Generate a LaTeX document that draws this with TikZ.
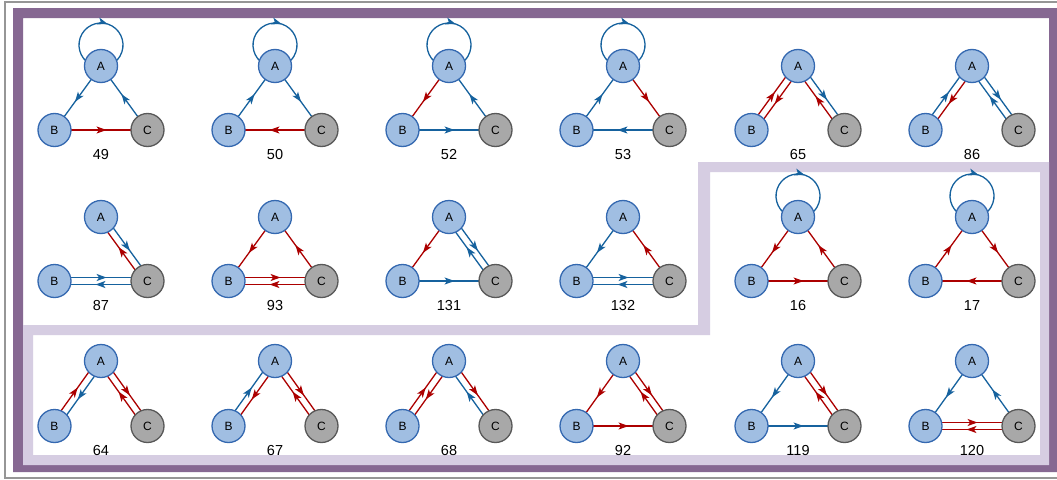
\documentclass[tikz,border=0pt]{standalone}
\usepackage{fontspec}
\setmainfont{Liberation Sans}
\usetikzlibrary{calc,arrows.meta,decorations.markings}

\definecolor{eb}{RGB}{22,98,158}
\definecolor{er}{RGB}{172,0,0}
\definecolor{vfill}{RGB}{160,190,226}
\definecolor{vline}{RGB}{52,104,176}
\definecolor{cfill}{RGB}{168,168,168}
\definecolor{cline}{RGB}{88,88,88}
\definecolor{frameP}{RGB}{134,104,146}
\definecolor{frameL}{RGB}{214,205,226}
\definecolor{outerline}{RGB}{150,150,150}

\pgfdeclarelayer{frame}
\pgfdeclarelayer{links}
\pgfsetlayers{frame,links,main}

\tikzset{
  vtx/.style={circle, minimum size=33pt, inner sep=0pt, line width=1.3pt,
    font=\fontsize{12}{14}\selectfont},
  va/.style={vtx, fill=vfill, draw=vline},
  vc/.style={vtx, fill=cfill, draw=cline},
  num/.style={anchor=base, inner sep=0pt, font=\fontsize{14.5}{16}\selectfont},
  cnx/.style={line width=1.3pt, draw=#1,
    postaction={decorate, decoration={markings,
      mark=at position 0.56 with {\arrow[#1]{Stealth[length=10pt,width=7pt,inset=2.5pt]}}}}}
}

% three vertices and the caption of one graph
\newcommand\tri[5]{%
  \node[va] (A#1) at (#2,#3) {A};
  \node[va] (B#1) at ({#2-46.5},#4) {B};
  \node[vc] (C#1) at ({#2+46.5},#4) {C};
  \node[num] (L#1) at (#2,#5) {#1};
}
% single directed link: colour, graph, from, to
\newcommand\one[4]{\begin{pgfonlayer}{links}
  \draw[cnx=#1] (#3#2.center) -- (#4#2.center);\end{pgfonlayer}}
% one of a pair of opposite links, shifted to its left
\newcommand\two[4]{\begin{pgfonlayer}{links}
  \draw[cnx=#1] ($(#3#2)!3.5pt!90:(#4#2)$) -- ($(#4#2)!3.5pt!-90:(#3#2)$);\end{pgfonlayer}}
% self loop on A
\newcommand\selfloop[1]{\begin{pgfonlayer}{links}
  \draw[cnx=eb] ($(A#1)+(0,-21)$) ++(120:22) arc(120:420:22);\end{pgfonlayer}}

\begin{document}
\begin{tikzpicture}[x=1pt,y=-1pt]
\useasboundingbox (0,0) rectangle (1057,479);
\clip (0,0) rectangle (1057,479);

\begin{pgfonlayer}{frame}
  \fill[white] (0,0) rectangle (1057,479);
  \draw[outerline, line width=2pt] (5,1.5) rectangle (1075,477.5);
  \fill[frameP, even odd rule] (13,8) rectangle (1065,472) (23,18) rectangle (1049,465);
  \fill[frameL, even odd rule]
    (698,162) -- (1049,162) -- (1049,465) -- (23,465) -- (23,325) -- (698,325) -- cycle
    (710,172) -- (1040,172) -- (1040,455) -- (33,455) -- (33,335) -- (710,335) -- cycle;
\end{pgfonlayer}

% first row
\tri{49}{101}{66}{130}{159}
\selfloop{49} \one{eb}{49}{A}{B} \one{eb}{49}{C}{A} \one{er}{49}{B}{C}
\tri{50}{275}{66}{130}{159}
\selfloop{50} \one{eb}{50}{B}{A} \one{eb}{50}{A}{C} \one{er}{50}{C}{B}
\tri{52}{449}{66}{130}{159}
\selfloop{52} \one{er}{52}{A}{B} \one{eb}{52}{C}{A} \one{eb}{52}{B}{C}
\tri{53}{623}{66}{130}{159}
\selfloop{53} \one{eb}{53}{B}{A} \one{er}{53}{A}{C} \one{eb}{53}{C}{B}
\tri{65}{798}{66}{130}{159}
\two{er}{65}{B}{A} \two{er}{65}{A}{B} \two{er}{65}{C}{A} \two{eb}{65}{A}{C}
\tri{86}{972}{66}{130}{159}
\two{eb}{86}{B}{A} \two{er}{86}{A}{B} \two{eb}{86}{C}{A} \two{eb}{86}{A}{C}

% second row
\tri{87}{101}{217}{281}{310}
\two{eb}{87}{A}{C} \two{er}{87}{C}{A} \two{eb}{87}{B}{C} \two{eb}{87}{C}{B}
\tri{93}{275}{217}{281}{310}
\one{er}{93}{A}{B} \one{er}{93}{C}{A} \two{er}{93}{B}{C} \two{er}{93}{C}{B}
\tri{131}{449}{217}{281}{310}
\one{er}{131}{A}{B} \two{eb}{131}{A}{C} \two{eb}{131}{C}{A} \one{eb}{131}{B}{C}
\tri{132}{623}{217}{281}{310}
\one{eb}{132}{A}{B} \one{er}{132}{C}{A} \two{eb}{132}{B}{C} \two{eb}{132}{C}{B}
\tri{16}{798}{217}{281}{310}
\selfloop{16} \one{er}{16}{A}{B} \one{er}{16}{C}{A} \one{er}{16}{B}{C}
\tri{17}{972}{217}{281}{310}
\selfloop{17} \one{er}{17}{B}{A} \one{er}{17}{A}{C} \one{er}{17}{C}{B}

% third row
\tri{64}{101}{361}{426}{455}
\two{er}{64}{B}{A} \two{eb}{64}{A}{B} \two{er}{64}{C}{A} \two{er}{64}{A}{C}
\tri{67}{275}{361}{426}{455}
\two{eb}{67}{B}{A} \two{er}{67}{A}{B} \two{er}{67}{C}{A} \two{er}{67}{A}{C}
\tri{68}{449}{361}{426}{455}
\two{er}{68}{B}{A} \two{er}{68}{A}{B} \two{eb}{68}{C}{A} \two{er}{68}{A}{C}
\tri{92}{623}{361}{426}{455}
\one{er}{92}{A}{B} \two{er}{92}{C}{A} \two{er}{92}{A}{C} \one{er}{92}{B}{C}
\tri{119}{798}{361}{426}{455}
\one{eb}{119}{A}{B} \two{er}{119}{C}{A} \two{er}{119}{A}{C} \one{eb}{119}{B}{C}
\tri{120}{972}{361}{426}{455}
\one{eb}{120}{A}{B} \one{eb}{120}{C}{A} \two{er}{120}{B}{C} \two{er}{120}{C}{B}
\end{tikzpicture}
\end{document}
